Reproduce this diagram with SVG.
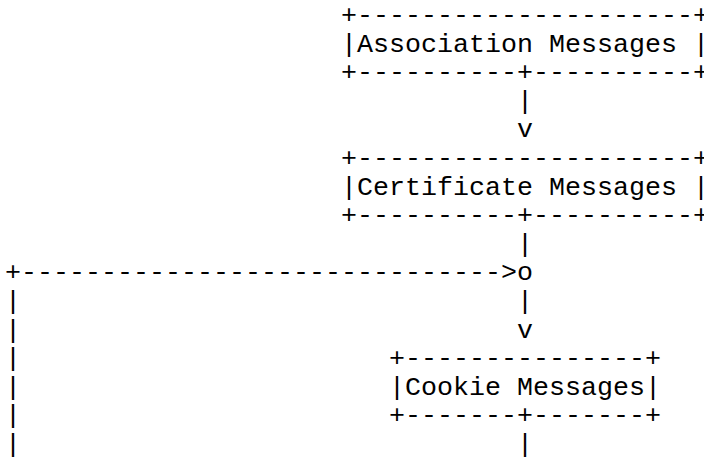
<svg xmlns="http://www.w3.org/2000/svg" width="704" height="466" viewBox="0 0 704 466">
<style>
text{font-family:"Liberation Mono","Courier New",monospace;font-size:26.67px;fill:#000;white-space:pre}
</style>
<rect width="704" height="466" fill="#fff"/>
<g id="assoc">
<text x="341" y="23" xml:space="preserve">+---------------------+</text>
<text x="341" y="51.6" xml:space="preserve">|Association Messages |</text>
<text x="341" y="80.2" xml:space="preserve">+----------+----------+</text>
</g>
<g id="cert">
<text x="341" y="166" xml:space="preserve">+---------------------+</text>
<text x="341" y="194.6" xml:space="preserve">|Certificate Messages |</text>
<text x="341" y="223.2" xml:space="preserve">+----------+----------+</text>
</g>
<g id="cookie">
<text x="389" y="366.2" xml:space="preserve">+---------------+</text>
<text x="389" y="394.8" xml:space="preserve">|Cookie Messages|</text>
<text x="389" y="423.4" xml:space="preserve">+-------+-------+</text>
</g>
<g id="connectors">
<text x="517" y="108.8">|</text>
<text x="517" y="137.4">v</text>
<text x="517" y="251.8">|</text>
<text x="5" y="280.4" xml:space="preserve">+------------------------------&gt;o</text>
<text x="517" y="309">|</text>
<text x="517" y="337.6">v</text>
<text x="517" y="452">|</text>
<text x="5" y="309">|</text>
<text x="5" y="337.6">|</text>
<text x="5" y="366.2">|</text>
<text x="5" y="394.8">|</text>
<text x="5" y="423.4">|</text>
<text x="5" y="452">|</text>
</g>
</svg>
